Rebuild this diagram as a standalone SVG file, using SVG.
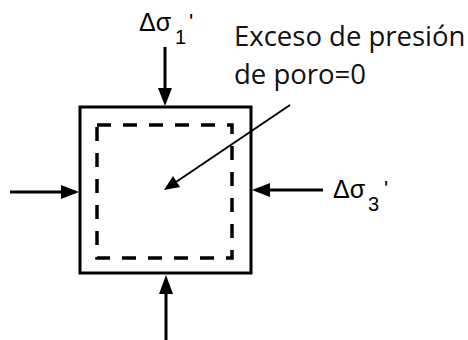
<svg xmlns="http://www.w3.org/2000/svg" width="468" height="340" viewBox="0 0 468 340">
<defs>
<style>
.ln{stroke:#000;stroke-width:3;fill:none}
.thin{stroke:#000;stroke-width:2;fill:none}
.dash{stroke:#000;stroke-width:3.5;fill:none;stroke-dasharray:14 12}
.ah{fill:#000}
.sym{font-family:"Liberation Sans",Arial,sans-serif;font-size:25px;fill:#000}
.sub{font-family:"Liberation Sans",Arial,sans-serif;font-size:20px;fill:#000}
.pr{font-family:"Liberation Sans",Arial,sans-serif;font-size:22px;fill:#000}
.lbl{font-family:"Open Sans","Noto Sans",sans-serif;font-size:27.5px;fill:#111}
</style>
</defs>
<rect width="468" height="340" fill="#fff"/>
<g id="specimen">
<rect class="ln" x="80" y="107" width="171" height="166" stroke-width="3.5"/>
<rect class="dash" x="97" y="125" width="135" height="133"/>
</g>
<g id="connectors">
<line class="ln" x1="165" y1="47" x2="165" y2="92"/>
<path class="ah" d="M158,88 L172,88 L165,106 Z"/>
<line class="ln" x1="166" y1="292" x2="166" y2="340"/>
<path class="ah" d="M159,294 L173,294 L166,275 Z"/>
<line class="ln" x1="10" y1="192" x2="64" y2="192"/>
<path class="ah" d="M61,185 L61,199 L79,192 Z"/>
<line class="ln" x1="268" y1="190" x2="323" y2="190"/>
<path class="ah" d="M270,183 L270,197 L252,190 Z"/>
<line class="thin" x1="290" y1="105" x2="176" y2="182"/>
<path class="ah" d="M164,190 L173,176 L180,187 Z"/>
</g>
<g id="label-s1">
<text class="sym" x="139" y="31">Δσ</text>
<text class="sub" x="175" y="44">1</text>
<text class="pr" x="189" y="29">'</text>
</g>
<g id="label-s3">
<text class="sym" x="333" y="198">Δσ</text>
<text class="sub" x="368" y="211">3</text>
<text class="pr" x="384" y="196">'</text>
</g>
<g id="label-pore">
<text class="lbl" x="234" y="46">Exceso de presión</text>
<text class="lbl" x="234" y="84">de poro=0</text>
</g>
</svg>
